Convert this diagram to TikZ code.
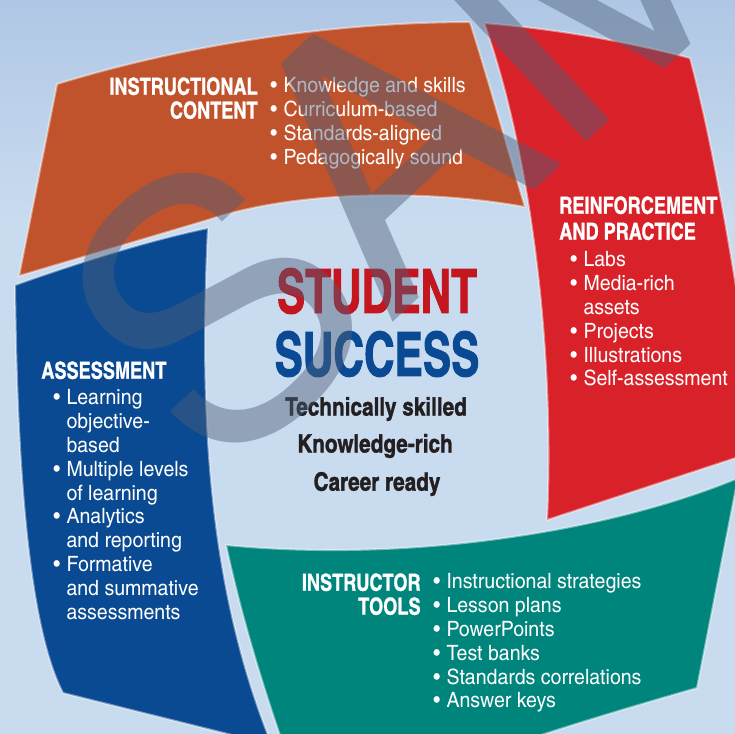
\documentclass[tikz,border=0pt]{standalone}
\usepackage{fontspec}
\newfontfamily\cnreg{texgyreheroscn-regular.otf}[FakeStretch=1.13]
\newfontfamily\cnbold{texgyreheroscn-bold.otf}[FakeStretch=0.94, FakeBold=1]
\newfontfamily\cntitle{texgyreheroscn-bold.otf}[FakeStretch=0.85, FakeBold=1.5]
\newfontfamily\cnmotto{texgyreheroscn-bold.otf}[FakeBold=1.2]
\newfontfamily\wmfont{texgyreheros-regular.otf}
\definecolor{bgtop}{HTML}{AFC7E5}
\definecolor{bglight}{HTML}{C9DBEF}
\definecolor{bandorange}{HTML}{C0532C}
\definecolor{bandred}{HTML}{D82128}
\definecolor{bandteal}{HTML}{00857D}
\definecolor{bandblue}{HTML}{0A4A92}
\definecolor{titlered}{HTML}{C3161F}
\definecolor{titleblue}{HTML}{0A4A94}
\definecolor{darktext}{HTML}{231F20}
\definecolor{wmgrey}{HTML}{4D5E78}
\newcommand{\itemb}{\textbullet\hspace{0.3em}}
\newcommand{\itemc}{\phantom{\textbullet}\hspace{0.3em}}

\begin{document}
\begin{tikzpicture}[x=0.02cm, y=-0.02cm,
band/.style={draw=white, draw opacity=0.45, line width=1.2pt},
head/.style={font=\cnbold\fontsize{13.4}{13.6}\selectfont, text=white, inner sep=0pt},
items/.style={font=\cnreg\fontsize{12}{13.6}\selectfont, text=white, align=left, inner sep=0pt, anchor=north west},
motto/.style={font=\cnmotto\fontsize{14.4}{16}\selectfont, text=darktext, inner sep=0pt}]
%================================================================
%	Background
\useasboundingbox (0,0) rectangle (735,734);
\clip (0,0) rectangle (735,734);
\fill[bglight] (0,0) rectangle (735,734);
\shade[top color=bgtop, bottom color=bglight] (0,0) rectangle (735,220);

%================================================================
%	Bands
\filldraw[band, fill=bandorange] (19,276) -- (57,84)
  .. controls (200,40) and (350,22) .. (470,22)
  .. controls (490,85) and (508,150) .. (525,207)
  .. controls (420,188) and (290,192) .. (208,220) -- cycle;

\filldraw[band, fill=bandred] (484,23) .. controls (570,30) and (640,45) .. (690,58)
  .. controls (715,150) and (740,300) .. (760,450)
  -- (547,520)
  .. controls (555,350) and (530,150) .. (484,23);

\filldraw[band, fill=bandteal] (226,545) .. controls (400,562) and (600,535) .. (738,478)
  -- (697,688)
  .. controls (620,710) and (520,740) .. (440,770)
  -- (292,770)
  .. controls (260,680) and (240,610) .. (226,545) -- cycle;

\filldraw[band, fill=bandblue] (15,285) .. controls (80,262) and (150,240) .. (208,228)
  .. controls (200,400) and (205,580) .. (272,745)
  -- (63,693)
  .. controls (30,630) and (17,480) .. (15,285);

%================================================================
%	Band texts
\node[head, align=right, anchor=north east] (icHead) at (258,77) {INSTRUCTIONAL\\CONTENT};
\node[items] (icList) at (270,77) {\itemb Knowledge and skills\\\itemb Curriculum-based\\\itemb Standards-aligned\\\itemb Pedagogically sound};

\node[head, align=left, anchor=north west, font=\cnbold\fontsize{13.4}{14.8}\selectfont] (rpHead) at (559,196) {REINFORCEMENT\\AND PRACTICE};
\node[items] (rpList) at (570,251) {\itemb Labs\\\itemb Media-rich\\\itemc assets\\\itemb Projects\\\itemb Illustrations\\\itemb Self-assessment};

\node[head, anchor=north west] (asHead) at (41,361) {ASSESSMENT};
\node[items] (asList) at (53,389) {\itemb Learning\\\itemc objective-\\\itemc based\\\itemb Multiple levels\\\itemc of learning\\\itemb Analytics\\\itemc and reporting\\\itemb Formative\\\itemc and summative\\\itemc assessments};

\node[head, align=right, anchor=north east] (itHead) at (421,573) {INSTRUCTOR\\TOOLS};
\node[items] (itList) at (433,573) {\itemb Instructional strategies\\\itemb Lesson plans\\\itemb PowerPoints\\\itemb Test banks\\\itemb Standards correlations\\\itemb Answer keys};

%================================================================
%	Center
\node[font=\cntitle\fontsize{34.6}{36}\selectfont, text=titlered, inner sep=0pt] (student) at (377,291) {STUDENT};
\node[font=\cntitle\fontsize{34.6}{36}\selectfont, text=titleblue, inner sep=0pt] (success) at (377,354) {SUCCESS};

\node[motto] (skilled) at (376,409) {Technically skilled};
\node[motto] (rich) at (375,446) {Knowledge-rich};
\node[motto] (ready) at (377,484) {Career ready};

%================================================================
%	Watermark
\node[font=\wmfont\fontsize{207}{210}\selectfont, text=wmgrey, opacity=0.45, rotate=43, anchor=base west, inner sep=0pt] (wm) at (216,487) {SAMPLE};
\end{tikzpicture}
\end{document}
